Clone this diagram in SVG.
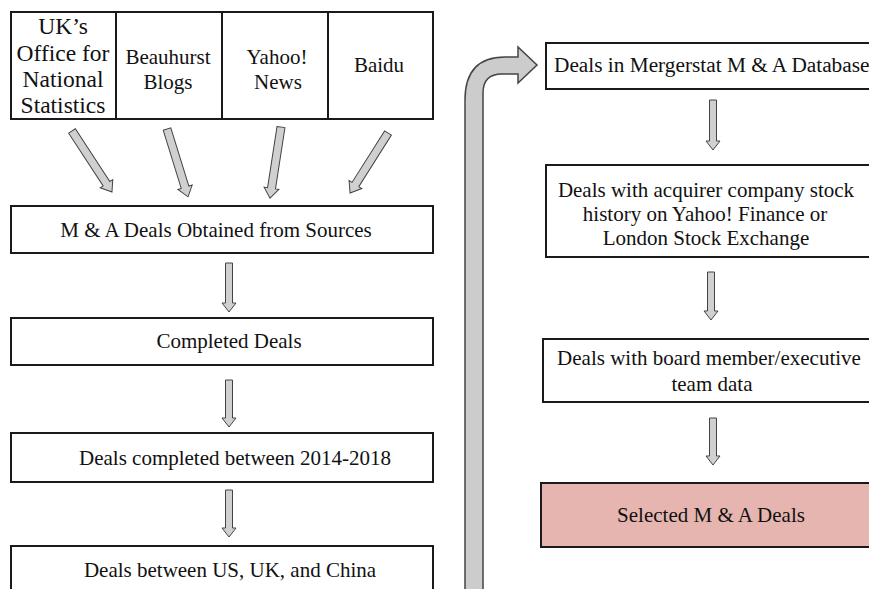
<svg xmlns="http://www.w3.org/2000/svg" width="869" height="589" viewBox="0 0 869 589">
<defs>
<style>
.box{fill:#fff;stroke:#1a1a1a;stroke-width:2}
.sel{fill:#e6b5af;stroke:#1a1a1a;stroke-width:2}
text{font-family:'Liberation Serif','Times New Roman',Times,'DejaVu Serif',serif;font-size:21px;fill:#111}
.t{text-anchor:middle}
.big{font-size:23.5px}
.arr{fill:#d0d0d0;stroke:#444;stroke-width:1}
</style>
</defs>
<rect width="869" height="589" fill="#fff"/>

<g id="connectors">
<g transform="translate(72,131) rotate(-33.2)"><path class="arr" d="M-4,0 L4,0 L4,63 L7.5,63 L0,73 L-7.5,63 L-4,63 Z"/></g>
<g transform="translate(167,129) rotate(-17.2)"><path class="arr" d="M-4,0 L4,0 L4,61 L7.5,61 L0,71 L-7.5,61 L-4,61 Z"/></g>
<g transform="translate(281,127) rotate(8.8)"><path class="arr" d="M-4,0 L4,0 L4,62 L7.5,62 L0,72 L-7.5,62 L-4,62 Z"/></g>
<g transform="translate(388,133) rotate(32.3)"><path class="arr" d="M-4,0 L4,0 L4,61 L7.5,61 L0,71 L-7.5,61 L-4,61 Z"/></g>
<path class="arr" d="M225.5,263 L232.5,263 L232.5,303 L236,303 L229,312 L222,303 L225.5,303 Z"/>
<path class="arr" d="M225.5,380 L232.5,380 L232.5,418 L236,418 L229,427 L222,418 L225.5,418 Z"/>
<path class="arr" d="M225.5,490 L232.5,490 L232.5,528 L236,528 L229,537 L222,528 L225.5,528 Z"/>
<path class="arr" d="M709.5,100 L716.5,100 L716.5,141 L720,141 L713,150 L706,141 L709.5,141 Z"/>
<path class="arr" d="M707.5,272 L714.5,272 L714.5,311 L718,311 L711,320 L704,311 L707.5,311 Z"/>
<path class="arr" d="M709.5,418 L716.5,418 L716.5,456 L720,456 L713,465 L706,456 L709.5,456 Z"/>
<path d="M465,592 L465,100 Q465,57 505,57 L518,57 L518,47 L537,65 L518,83 L518,74 L502,74 Q483,74 483,93 L483,592 Z" fill="#cccccc" stroke="#444" stroke-width="1.5"/>
</g>

<g id="src-ons"><rect class="box" x="11" y="12" width="105" height="107"/>
<text class="t big" x="63" y="34">UK’s</text>
<text class="t big" x="63" y="61">Office for</text>
<text class="t big" x="63" y="87">National</text>
<text class="t big" x="63" y="113">Statistics</text></g>
<g id="src-beauhurst"><rect class="box" x="116" y="12" width="106" height="107"/>
<text class="t" x="168" y="64">Beauhurst</text>
<text class="t" x="168" y="89">Blogs</text></g>
<g id="src-yahoo"><rect class="box" x="222" y="12" width="106" height="107"/>
<text class="t" x="277" y="64">Yahoo!</text>
<text class="t" x="278" y="89">News</text></g>
<g id="src-baidu"><rect class="box" x="328" y="12" width="105" height="107"/>
<text class="t" x="379" y="72">Baidu</text></g>

<g id="obtained"><rect class="box" x="11" y="206" width="422" height="47"/>
<text class="t" x="216" y="237">M &amp; A Deals Obtained from Sources</text></g>
<g id="completed"><rect class="box" x="11" y="318" width="422" height="47"/>
<text class="t" x="229" y="348">Completed Deals</text></g>
<g id="period"><rect class="box" x="11" y="433" width="422" height="49"/>
<text class="t" x="235" y="465">Deals completed between 2014-2018</text></g>
<g id="countries"><rect class="box" x="11" y="546" width="422" height="60"/>
<text class="t" x="230" y="577">Deals between US, UK, and China</text></g>

<g id="mergerstat"><rect class="box" x="546" y="43" width="340" height="46"/>
<text x="554" y="72" style="font-size:21.3px">Deals in Mergerstat M &amp; A Database</text></g>
<g id="stock"><rect class="box" x="546" y="165" width="340" height="92"/>
<text class="t" x="706" y="197">Deals with acquirer company stock</text>
<text class="t" x="705" y="221">history on Yahoo! Finance or</text>
<text class="t" x="706" y="245">London Stock Exchange</text></g>
<g id="board"><rect class="box" x="543" y="339" width="340" height="63"/>
<text class="t" x="709" y="365">Deals with board member/executive</text>
<text class="t" x="712" y="391">team data</text></g>
<g id="selected"><rect class="sel" x="541" y="483" width="340" height="64"/>
<text class="t" x="711" y="522">Selected M &amp; A Deals</text></g>
</svg>
